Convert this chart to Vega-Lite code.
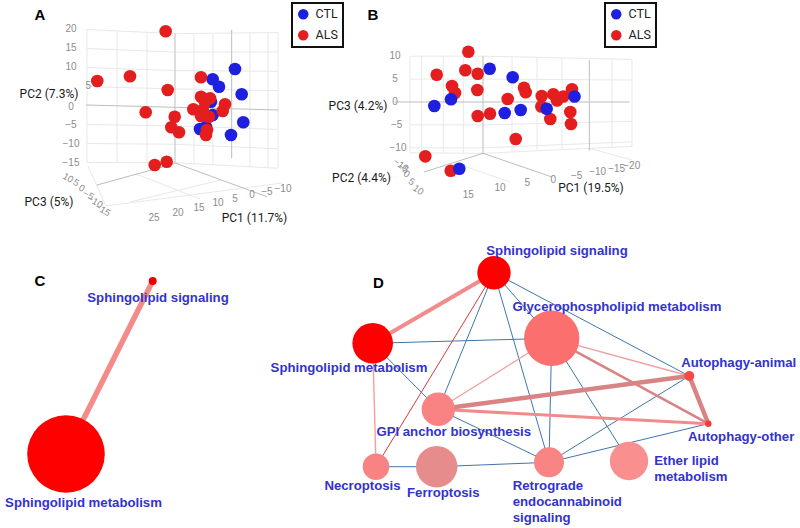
{
  "$schema": "https://vega.github.io/schema/vega-lite/v6.json",
  "padding": 0,
  "spacing": 0,
  "background": "white",
  "config": {"view": {"stroke": null}, "legend": {"strokeWidth": 2}},
  "resolve": {"scale": {"x": "independent", "y": "independent", "color": "independent", "stroke": "independent", "size": "independent", "strokeWidth": "independent"}},
  "datasets": {
    "pcaA": [
      {"group": "CTL", "x": 15.79, "y": 9.61}, {"group": "CTL", "x": 9.92, "y": 6.89}, {"group": "CTL", "x": 11.58, "y": 4.95},
      {"group": "CTL", "x": 17.55, "y": 2.95}, {"group": "CTL", "x": 9.47, "y": 1.0}, {"group": "CTL", "x": 9.92, "y": -2.5},
      {"group": "CTL", "x": 17.97, "y": -4.42}, {"group": "CTL", "x": 6.58, "y": -6.18}, {"group": "CTL", "x": 8.16, "y": -5.66},
      {"group": "CTL", "x": 14.74, "y": -7.76},
      {"group": "ALS", "x": -2.45, "y": 19.53}, {"group": "ALS", "x": -20.45, "y": 6.45}, {"group": "ALS", "x": -11.84, "y": 7.68},
      {"group": "ALS", "x": -1.92, "y": 4.08}, {"group": "ALS", "x": 6.84, "y": 7.42}, {"group": "ALS", "x": -7.71, "y": -1.79},
      {"group": "ALS", "x": -0.08, "y": -2.95}, {"group": "ALS", "x": -0.97, "y": -5.74}, {"group": "ALS", "x": 1.05, "y": -7.05},
      {"group": "ALS", "x": -2.18, "y": -14.79}, {"group": "ALS", "x": -5.34, "y": -15.66}, {"group": "ALS", "x": 6.84, "y": 2.32},
      {"group": "ALS", "x": 9.21, "y": 1.89}, {"group": "ALS", "x": 4.82, "y": -1.0}, {"group": "ALS", "x": 7.29, "y": -1.18},
      {"group": "ALS", "x": 6.84, "y": -2.76}, {"group": "ALS", "x": 8.95, "y": -2.95}, {"group": "ALS", "x": 13.16, "y": 0.32},
      {"group": "ALS", "x": 12.55, "y": -1.45}, {"group": "ALS", "x": 8.42, "y": -6.45}, {"group": "ALS", "x": 8.16, "y": -7.76},
      {"group": "ALS", "x": 7.89, "y": 0.92}
    ],
    "pcaB": [
      {"group": "ALS", "x": -3.21, "y": 10.98}, {"group": "ALS", "x": -10.11, "y": 5.96}, {"group": "ALS", "x": -3.86, "y": 6.92},
      {"group": "ALS", "x": -1.16, "y": 6.18}, {"group": "ALS", "x": -6.77, "y": 3.49}, {"group": "ALS", "x": -6.11, "y": 1.97},
      {"group": "ALS", "x": -1.24, "y": 2.62}, {"group": "ALS", "x": 8.95, "y": 3.12}, {"group": "ALS", "x": 9.32, "y": 2.12},
      {"group": "ALS", "x": 5.39, "y": 0.66}, {"group": "ALS", "x": 12.82, "y": 1.31}, {"group": "ALS", "x": 15.35, "y": 1.68},
      {"group": "ALS", "x": 16.16, "y": 0.33}, {"group": "ALS", "x": 17.53, "y": 1.2}, {"group": "ALS", "x": 19.43, "y": 2.77},
      {"group": "ALS", "x": 12.73, "y": -0.98}, {"group": "ALS", "x": 14.69, "y": -3.71}, {"group": "ALS", "x": 19.06, "y": -2.18},
      {"group": "ALS", "x": 19.21, "y": -4.8}, {"group": "ALS", "x": -1.16, "y": -3.06}, {"group": "ALS", "x": 1.53, "y": -2.55},
      {"group": "ALS", "x": 7.14, "y": -8.08}, {"group": "ALS", "x": -12.6, "y": -11.86}, {"group": "ALS", "x": -7.05, "y": -15.0},
      {"group": "CTL", "x": 1.46, "y": 7.27}, {"group": "CTL", "x": 6.48, "y": 5.39}, {"group": "CTL", "x": -6.99, "y": 0.59},
      {"group": "CTL", "x": -10.63, "y": -0.87}, {"group": "CTL", "x": 4.74, "y": -2.4}, {"group": "CTL", "x": 8.23, "y": -1.75},
      {"group": "CTL", "x": 13.91, "y": -1.46}, {"group": "CTL", "x": 19.98, "y": 1.2}, {"group": "CTL", "x": -5.17, "y": -14.56}
    ],
    "gridA": [
      {"kind": "grid", "x": -23.16, "y": 20, "x2": 0, "y2": 18.9},
      {"kind": "grid", "x": -23.16, "y": 15, "x2": 0, "y2": 14.05},
      {"kind": "grid", "x": -23.16, "y": 10, "x2": 0, "y2": 9.2},
      {"kind": "grid", "x": -23.16, "y": 5, "x2": 0, "y2": 4.35},
      {"kind": "grid", "x": -23.16, "y": -5, "x2": 0, "y2": -5.35},
      {"kind": "grid", "x": -23.16, "y": -10, "x2": 0, "y2": -10.2},
      {"kind": "grid", "x": -23.16, "y": -15, "x2": 0, "y2": -15.05},
      {"kind": "grid", "x": 0, "y": 18.9, "x2": 27.1, "y2": 19.2},
      {"kind": "grid", "x": 0, "y": 14.05, "x2": 27.1, "y2": 14.1},
      {"kind": "grid", "x": 0, "y": 9.2, "x2": 27.1, "y2": 9.0},
      {"kind": "grid", "x": 0, "y": 4.35, "x2": 27.1, "y2": 3.9},
      {"kind": "grid", "x": 0, "y": -5.35, "x2": 27.1, "y2": -6.3},
      {"kind": "grid", "x": 0, "y": -10.2, "x2": 27.1, "y2": -11.4},
      {"kind": "grid", "x": 0, "y": -15.05, "x2": 27.1, "y2": -16.5},
      {"kind": "grid", "x": -23.16, "y": 20, "x2": -23.16, "y2": -15},
      {"kind": "grid", "x": -15.26, "y": 19.6, "x2": -15.26, "y2": -15},
      {"kind": "grid", "x": -7.37, "y": 19.25, "x2": -7.37, "y2": -15.03},
      {"kind": "grid", "x": 5, "y": 18.96, "x2": 5, "y2": -15.32},
      {"kind": "grid", "x": 10, "y": 19.01, "x2": 10, "y2": -15.59},
      {"kind": "grid", "x": 19.74, "y": 19.12, "x2": 19.74, "y2": -16.11},
      {"kind": "grid", "x": 24.47, "y": 19.17, "x2": 24.47, "y2": -16.36},
      {"kind": "grid", "x": 27.1, "y": 19.2, "x2": 27.1, "y2": -16.5},
      {"kind": "grid", "x": -22.89, "y": -15.92, "x2": -18.16, "y2": -26.45},
      {"kind": "grid", "x": -18.16, "y": -26.45, "x2": 28.16, "y2": -20.39},
      {"kind": "grid", "x": -11.84, "y": -25.39, "x2": 12.1, "y2": -19.6},
      {"kind": "grid", "x": -10.26, "y": -18.03, "x2": 6.58, "y2": -24.61},
      {"kind": "axis", "x": -23.45, "y": 0.13, "x2": 27.18, "y2": -1.18},
      {"kind": "axis", "x": 0, "y": 18.9, "x2": 0, "y2": -15.05},
      {"kind": "axis", "x": 14.92, "y": 19.87, "x2": 14.92, "y2": -13.9},
      {"kind": "axis", "x": -20.53, "y": -20.92, "x2": 0.21, "y2": -15.21},
      {"kind": "axis", "x": 0.21, "y": -15.21, "x2": 24.21, "y2": -24.0}
    ],
    "gridB": [
      {"kind": "grid", "x": -15.94, "y": 10, "x2": 0, "y2": 10},
      {"kind": "grid", "x": -15.94, "y": 5, "x2": 0, "y2": 5},
      {"kind": "grid", "x": -15.94, "y": -5, "x2": 0, "y2": -5},
      {"kind": "grid", "x": -15.94, "y": -10, "x2": 0, "y2": -10},
      {"kind": "grid", "x": 0, "y": 10, "x2": 32.53, "y2": 9.3},
      {"kind": "grid", "x": 0, "y": 5, "x2": 32.53, "y2": 4.8},
      {"kind": "grid", "x": 0, "y": -5, "x2": 32.53, "y2": -4.2},
      {"kind": "grid", "x": 0, "y": -10, "x2": 32.53, "y2": -8.7},
      {"kind": "grid", "x": -15.94, "y": 10, "x2": -15.94, "y2": -11.1},
      {"kind": "grid", "x": -13.38, "y": 10, "x2": -13.38, "y2": -11.1},
      {"kind": "grid", "x": -8.67, "y": 10, "x2": -8.67, "y2": -11.1},
      {"kind": "grid", "x": -4.3, "y": 10, "x2": -4.3, "y2": -11.1},
      {"kind": "grid", "x": 6.33, "y": 9.86, "x2": 6.33, "y2": -10.83},
      {"kind": "grid", "x": 11.79, "y": 9.75, "x2": 11.79, "y2": -10.59},
      {"kind": "grid", "x": 17.25, "y": 9.63, "x2": 17.25, "y2": -10.36},
      {"kind": "grid", "x": 28.17, "y": 9.39, "x2": 28.17, "y2": -9.89},
      {"kind": "grid", "x": 32.53, "y": 9.3, "x2": 32.53, "y2": -9.7},
      {"kind": "grid", "x": -15.94, "y": -11.1, "x2": 0, "y2": -11.2},
      {"kind": "grid", "x": 0, "y": -11.2, "x2": 32.53, "y2": -9.7},
      {"kind": "grid", "x": 23.21, "y": -10.13, "x2": 32.53, "y2": -12.66},
      {"kind": "grid", "x": -6.44, "y": -13.23, "x2": 5.9, "y2": -17.47},
      {"kind": "axis", "x": -19.26, "y": 0, "x2": 32.0, "y2": 0},
      {"kind": "axis", "x": 0, "y": 10, "x2": 0, "y2": -11.2},
      {"kind": "axis", "x": 23.22, "y": 9.17, "x2": 23.22, "y2": -10.6},
      {"kind": "axis", "x": -12.88, "y": -15.28, "x2": 0, "y2": -11.2},
      {"kind": "axis", "x": 0, "y": -11.2, "x2": 15.07, "y2": -16.38}
    ],
    "ticksA": [
      {"axis": "PC2", "x": -27.37, "y": 20, "label": "20"}, {"axis": "PC2", "x": -27.37, "y": 15, "label": "15"}, {"axis": "PC2", "x": -27.37, "y": 10, "label": "10"},
      {"axis": "PC2", "x": -22.8, "y": 5.2, "label": "5"}, {"axis": "PC2", "x": -27.37, "y": -0.3, "label": "0"}, {"axis": "PC2", "x": -27.37, "y": -5, "label": "−5"},
      {"axis": "PC2", "x": -27.37, "y": -10, "label": "−10"}, {"axis": "PC2", "x": -27.37, "y": -15, "label": "−15"},
      {"axis": "PC3", "x": -28.16, "y": -19.08, "label": "10"}, {"axis": "PC3", "x": -26.05, "y": -20.32, "label": "5"}, {"axis": "PC3", "x": -24.55, "y": -21.79, "label": "0"},
      {"axis": "PC3", "x": -22.82, "y": -23.55, "label": "−5"}, {"axis": "PC3", "x": -21.05, "y": -25.32, "label": "−10"}, {"axis": "PC3", "x": -19.03, "y": -27.5, "label": "−15"},
      {"axis": "PC1", "x": -5.53, "y": -29.61, "label": "25"}, {"axis": "PC1", "x": 0.79, "y": -28.29, "label": "20"}, {"axis": "PC1", "x": 6.32, "y": -26.97, "label": "15"},
      {"axis": "PC1", "x": 11.32, "y": -25.66, "label": "10"}, {"axis": "PC1", "x": 15.79, "y": -24.61, "label": "5"}, {"axis": "PC1", "x": 20.26, "y": -23.55, "label": "0"},
      {"axis": "PC1", "x": 24.21, "y": -22.76, "label": "−5"}, {"axis": "PC1", "x": 28.42, "y": -21.97, "label": "−10"}
    ],
    "titlesA": [
      {"x": -33.16, "y": 3.15, "label": "PC2 (7.3%)"},
      {"x": -33.16, "y": -25.32, "label": "PC3 (5%)"},
      {"x": 20.92, "y": -29.68, "label": "PC1 (11.7%)"}
    ],
    "letterA": [{"x": -35.53, "y": 23.82, "label": "A"}],
    "ticksB": [
      {"axis": "PC3", "x": -19.21, "y": 10, "label": "10"}, {"axis": "PC3", "x": -19.21, "y": 5, "label": "5"}, {"axis": "PC3", "x": -19.21, "y": 0, "label": "0"},
      {"axis": "PC3", "x": -18.84, "y": -5, "label": "−5"}, {"axis": "PC3", "x": -18.56, "y": -10, "label": "−10"},
      {"axis": "PC2", "x": -17.97, "y": -13.76, "label": "−10"}, {"axis": "PC2", "x": -17.4, "y": -14.48, "label": "−5"}, {"axis": "PC2", "x": -16.66, "y": -15.72, "label": "0"},
      {"axis": "PC2", "x": -15.57, "y": -17.4, "label": "5"}, {"axis": "PC2", "x": -14.13, "y": -19.21, "label": "10"},
      {"axis": "PC1", "x": -3.21, "y": -20.31, "label": "15"}, {"axis": "PC1", "x": 3.71, "y": -18.84, "label": "10"}, {"axis": "PC1", "x": 9.67, "y": -17.75, "label": "5"},
      {"axis": "PC1", "x": 15.35, "y": -17.03, "label": "0"}, {"axis": "PC1", "x": 20.46, "y": -16.09, "label": "−5"}, {"axis": "PC1", "x": 25.04, "y": -15.35, "label": "−10"},
      {"axis": "PC1", "x": 29.19, "y": -14.69, "label": "−15"}, {"axis": "PC1", "x": 32.47, "y": -13.91, "label": "−20"}
    ],
    "titlesB": [
      {"x": -27.29, "y": -0.87, "label": "PC3 (4.2%)"},
      {"x": -26.53, "y": -16.59, "label": "PC2 (4.4%)"},
      {"x": 23.58, "y": -18.78, "label": "PC1 (19.5%)"}
    ],
    "letterB": [{"x": -24.02, "y": 19.0, "label": "B"}],
    "nodesC": [
      {"name": "Sphingolipid signaling", "x": 152.7, "y": 41, "hits": 1.0},
      {"name": "Sphingolipid metabolism", "x": 66, "y": 214, "hits": 94.6}
    ],
    "edgesC": [
      {"source": "Sphingolipid signaling", "target": "Sphingolipid metabolism", "kind": "shared", "weight": 5.5}
    ],
    "labelsC": [
      {"x": 158, "y": 58.3, "label": "Sphingolipid signaling"},
      {"x": 83.5, "y": 263.3, "label": "Sphingolipid metabolism"}
    ],
    "letterC": [{"x": 40, "y": 40.7, "label": "C"}],
    "nodesD": [
      {"name": "Sphingolipid signaling", "x": 194, "y": 32.7, "hits": 29.2},
      {"name": "Sphingolipid metabolism", "x": 72.7, "y": 103.3, "hits": 43.2},
      {"name": "Glycerophospholipid metabolism", "x": 251.7, "y": 98.3, "hits": 80.3},
      {"name": "Autophagy-animal", "x": 389.3, "y": 136, "hits": 2.6},
      {"name": "Autophagy-other", "x": 408.3, "y": 183.7, "hits": 1.1},
      {"name": "GPI anchor biosynthesis", "x": 138.3, "y": 169.3, "hits": 29.2},
      {"name": "Necroptosis", "x": 76, "y": 226.7, "hits": 18.5},
      {"name": "Ferroptosis", "x": 136.7, "y": 226.7, "hits": 44.9},
      {"name": "Retrograde endocannabinoid signaling", "x": 249, "y": 222.3, "hits": 23.6},
      {"name": "Ether lipid metabolism", "x": 329, "y": 221, "hits": 38.6}
    ],
    "edgesD": [
      {"source": "Sphingolipid signaling", "target": "Autophagy-animal", "kind": "neg", "weight": 1},
      {"source": "Sphingolipid signaling", "target": "GPI anchor biosynthesis", "kind": "neg", "weight": 1},
      {"source": "Sphingolipid signaling", "target": "Retrograde endocannabinoid signaling", "kind": "neg", "weight": 1},
      {"source": "Sphingolipid signaling", "target": "Glycerophospholipid metabolism", "kind": "neg", "weight": 1},
      {"source": "Sphingolipid metabolism", "target": "Glycerophospholipid metabolism", "kind": "neg", "weight": 1},
      {"source": "Sphingolipid metabolism", "target": "GPI anchor biosynthesis", "kind": "neg", "weight": 1},
      {"source": "Glycerophospholipid metabolism", "target": "Retrograde endocannabinoid signaling", "kind": "neg", "weight": 1},
      {"source": "Glycerophospholipid metabolism", "target": "Ether lipid metabolism", "kind": "neg", "weight": 1},
      {"source": "GPI anchor biosynthesis", "target": "Retrograde endocannabinoid signaling", "kind": "neg", "weight": 1},
      {"source": "Retrograde endocannabinoid signaling", "target": "Autophagy-animal", "kind": "neg", "weight": 1},
      {"source": "Retrograde endocannabinoid signaling", "target": "Autophagy-other", "kind": "neg", "weight": 1},
      {"source": "Necroptosis", "target": "Ferroptosis", "kind": "neg", "weight": 1},
      {"source": "Ferroptosis", "target": "Retrograde endocannabinoid signaling", "kind": "neg", "weight": 1},
      {"source": "Sphingolipid signaling", "target": "Necroptosis", "kind": "red", "weight": 1},
      {"source": "Sphingolipid metabolism", "target": "Necroptosis", "kind": "weak", "weight": 1.4},
      {"source": "Glycerophospholipid metabolism", "target": "GPI anchor biosynthesis", "kind": "weak", "weight": 1.3},
      {"source": "Glycerophospholipid metabolism", "target": "Autophagy-animal", "kind": "weak", "weight": 1.3},
      {"source": "Glycerophospholipid metabolism", "target": "Autophagy-other", "kind": "strong", "weight": 2.6},
      {"source": "GPI anchor biosynthesis", "target": "Autophagy-other", "kind": "shared", "weight": 3},
      {"source": "GPI anchor biosynthesis", "target": "Autophagy-animal", "kind": "strong", "weight": 4.5},
      {"source": "Autophagy-animal", "target": "Autophagy-other", "kind": "strong", "weight": 4.5},
      {"source": "Sphingolipid signaling", "target": "Sphingolipid metabolism", "kind": "shared", "weight": 4}
    ],
    "labelsD": [
      {"x": 257, "y": 11, "label": "Sphingolipid signaling"},
      {"x": 317, "y": 66.7, "label": "Glycerophospholipid metabolism"},
      {"x": 49, "y": 128.3, "label": "Sphingolipid metabolism"},
      {"x": 438.7, "y": 123.3, "label": "Autophagy-animal"},
      {"x": 441.2, "y": 196.7, "label": "Autophagy-other"},
      {"x": 153.7, "y": 191.7, "label": "GPI anchor biosynthesis"},
      {"x": 62.5, "y": 246, "label": "Necroptosis"},
      {"x": 143.3, "y": 252.7, "label": "Ferroptosis"}
    ],
    "labelsDLeft": [
      {"x": 212.7, "y": 246, "label": "Retrograde"},
      {"x": 212.7, "y": 261.7, "label": "endocannabinoid"},
      {"x": 212.7, "y": 277.7, "label": "signaling"},
      {"x": 354.3, "y": 221, "label": "Ether lipid"},
      {"x": 354.3, "y": 237.3, "label": "metabolism"}
    ],
    "letterD": [{"x": 78.3, "y": 42.7, "label": "D"}]
  },
  "vconcat": [
    {
      "spacing": 0,
      "bounds": "flush",
      "resolve": {"scale": {"x": "independent", "y": "independent", "color": "independent", "stroke": "independent", "size": "independent", "strokeWidth": "independent"}},
      "hconcat": [
        {
          "width": 380,
          "height": 240,
          "encoding": {
            "x": {"field": "x", "type": "quantitative", "scale": {"domain": [-46.05, 53.95], "nice": false, "zero": false}, "axis": null},
            "y": {"field": "y", "type": "quantitative", "scale": {"domain": [-35.39, 27.76], "nice": false, "zero": false}, "axis": null}
          },
          "layer": [
            {"data": {"name": "gridA"}, "transform": [{"filter": "datum.kind == 'grid'"}], "mark": {"type": "rule", "color": "#e8e8e8", "strokeWidth": 1}, "encoding": {"x2": {"field": "x2"}, "y2": {"field": "y2"}}},
            {"data": {"name": "gridA"}, "transform": [{"filter": "datum.kind == 'axis'"}], "mark": {"type": "rule", "color": "#bdbdbd", "strokeWidth": 1}, "encoding": {"x2": {"field": "x2"}, "y2": {"field": "y2"}}},
            {"data": {"name": "ticksA"}, "transform": [{"filter": "datum.axis != 'PC3'"}], "mark": {"type": "text", "fontSize": 10, "font": "Liberation Sans", "color": "#8c8c8c"}, "encoding": {"text": {"field": "label"}}},
            {"data": {"name": "ticksA"}, "transform": [{"filter": "datum.axis == 'PC3'"}], "mark": {"type": "text", "fontSize": 9.5, "angle": 30, "font": "Liberation Sans", "color": "#8c8c8c"}, "encoding": {"text": {"field": "label"}}},
            {"data": {"name": "titlesA"}, "mark": {"type": "text", "fontSize": 12, "font": "Roboto", "color": "#1a1a1a"}, "encoding": {"text": {"field": "label"}}},
            {"data": {"name": "letterA"}, "mark": {"type": "text", "fontSize": 15, "font": "Liberation Sans", "fontWeight": "bold", "color": "#000000"}, "encoding": {"text": {"field": "label"}}},
            {
              "data": {"name": "pcaA"},
              "mark": {"type": "circle", "size": 159, "opacity": 1},
              "encoding": {
                "color": {
                  "field": "group", "type": "nominal",
                  "scale": {"domain": ["CTL", "ALS"], "range": ["#1f1fe0", "#e41e1e"]},
                  "legend": {"title": null, "orient": "none", "legendX": 292, "legendY": 3, "strokeColor": "#111111", "fillColor": "white", "padding": 5, "symbolType": "circle", "symbolSize": 110, "symbolStrokeWidth": 0, "symbolOpacity": 1, "labelFontSize": 12.5, "labelFont": "Roboto", "labelColor": "#222222", "labelOffset": 6, "rowPadding": 8}
                }
              }
            }
          ]
        },
        {
          "width": 420,
          "height": 240,
          "encoding": {
            "x": {"field": "x", "type": "quantitative", "scale": {"domain": [-22.49, 69.21], "nice": false, "zero": false}, "axis": null},
            "y": {"field": "y", "type": "quantitative", "scale": {"domain": [-30.13, 22.27], "nice": false, "zero": false}, "axis": null}
          },
          "layer": [
            {"data": {"name": "gridB"}, "transform": [{"filter": "datum.kind == 'grid'"}], "mark": {"type": "rule", "color": "#e8e8e8", "strokeWidth": 1}, "encoding": {"x2": {"field": "x2"}, "y2": {"field": "y2"}}},
            {"data": {"name": "gridB"}, "transform": [{"filter": "datum.kind == 'axis'"}], "mark": {"type": "rule", "color": "#bdbdbd", "strokeWidth": 1}, "encoding": {"x2": {"field": "x2"}, "y2": {"field": "y2"}}},
            {"data": {"name": "ticksB"}, "transform": [{"filter": "datum.axis != 'PC2'"}], "mark": {"type": "text", "fontSize": 10, "font": "Liberation Sans", "color": "#8c8c8c"}, "encoding": {"text": {"field": "label"}}},
            {"data": {"name": "ticksB"}, "transform": [{"filter": "datum.axis == 'PC2'"}], "mark": {"type": "text", "fontSize": 9.5, "angle": 35, "font": "Liberation Sans", "color": "#8c8c8c"}, "encoding": {"text": {"field": "label"}}},
            {"data": {"name": "titlesB"}, "mark": {"type": "text", "fontSize": 12, "font": "Roboto", "color": "#1a1a1a"}, "encoding": {"text": {"field": "label"}}},
            {"data": {"name": "letterB"}, "mark": {"type": "text", "fontSize": 15, "font": "Liberation Sans", "fontWeight": "bold", "color": "#000000"}, "encoding": {"text": {"field": "label"}}},
            {
              "data": {"name": "pcaB"},
              "mark": {"type": "circle", "size": 159, "opacity": 1},
              "encoding": {
                "color": {
                  "field": "group", "type": "nominal",
                  "scale": {"domain": ["CTL", "ALS"], "range": ["#1f1fe0", "#e41e1e"]},
                  "legend": {"title": null, "orient": "none", "legendX": 225, "legendY": 3, "strokeColor": "#111111", "fillColor": "white", "padding": 5, "symbolType": "circle", "symbolSize": 110, "symbolStrokeWidth": 0, "symbolOpacity": 1, "labelFontSize": 12.5, "labelFont": "Roboto", "labelColor": "#222222", "labelOffset": 6, "rowPadding": 8}
                }
              }
            }
          ]
        }
      ]
    },
    {
      "spacing": 0,
      "bounds": "flush",
      "resolve": {"scale": {"x": "independent", "y": "independent", "color": "independent", "stroke": "independent", "size": "independent", "strokeWidth": "independent"}},
      "hconcat": [
        {
          "width": 300,
          "height": 288,
          "encoding": {
            "x": {"field": "x", "type": "quantitative", "scale": {"domain": [0, 300], "nice": false, "zero": false}, "axis": null},
            "y": {"field": "y", "type": "quantitative", "scale": {"domain": [0, 288], "nice": false, "zero": false, "reverse": true}, "axis": null}
          },
          "layer": [
            {
              "data": {"name": "edgesC"},
              "transform": [
                {"lookup": "source", "from": {"data": {"name": "nodesC"}, "key": "name", "fields": ["x", "y"]}},
                {"lookup": "target", "from": {"data": {"name": "nodesC"}, "key": "name", "fields": ["x", "y"]}, "as": ["x2", "y2"]}
              ],
              "mark": {"type": "rule"},
              "encoding": {
                "x2": {"field": "x2"}, "y2": {"field": "y2"},
                "stroke": {"field": "kind", "type": "nominal", "scale": {"domain": ["shared"], "range": ["#f38b8b"]}, "legend": null},
                "strokeWidth": {"field": "weight", "type": "quantitative", "scale": {"domain": [0, 6], "range": [0, 6]}, "legend": null}
              }
            },
            {
              "data": {"name": "nodesC"},
              "mark": {"type": "circle", "opacity": 1},
              "encoding": {
                "size": {"field": "hits", "type": "quantitative", "scale": {"domain": [0, 100], "range": [0, 6366]}, "legend": null},
                "color": {"field": "name", "type": "nominal", "scale": {"domain": ["Sphingolipid signaling", "Sphingolipid metabolism"], "range": ["#ee0000", "#ff0000"]}, "legend": null}
              }
            },
            {"data": {"name": "labelsC"}, "mark": {"type": "text", "fontSize": 13.2, "font": "Liberation Sans", "fontWeight": "bold", "color": "#3333cc"}, "encoding": {"text": {"field": "label"}}},
            {"data": {"name": "letterC"}, "mark": {"type": "text", "fontSize": 15, "font": "Liberation Sans", "fontWeight": "bold", "color": "#000000"}, "encoding": {"text": {"field": "label"}}}
          ]
        },
        {
          "width": 500,
          "height": 288,
          "encoding": {
            "x": {"field": "x", "type": "quantitative", "scale": {"domain": [0, 500], "nice": false, "zero": false}, "axis": null},
            "y": {"field": "y", "type": "quantitative", "scale": {"domain": [0, 288], "nice": false, "zero": false, "reverse": true}, "axis": null}
          },
          "layer": [
            {
              "data": {"name": "edgesD"},
              "transform": [
                {"lookup": "source", "from": {"data": {"name": "nodesD"}, "key": "name", "fields": ["x", "y"]}},
                {"lookup": "target", "from": {"data": {"name": "nodesD"}, "key": "name", "fields": ["x", "y"]}, "as": ["x2", "y2"]}
              ],
              "mark": {"type": "rule"},
              "encoding": {
                "x2": {"field": "x2"}, "y2": {"field": "y2"},
                "stroke": {"field": "kind", "type": "nominal", "scale": {"domain": ["neg", "red", "weak", "strong", "shared"], "range": ["#4075ab", "#d83a3a", "#f0a0a0", "#d88484", "#f28b8b"]}, "legend": null},
                "strokeWidth": {"field": "weight", "type": "quantitative", "scale": {"domain": [0, 5], "range": [0, 5]}, "legend": null}
              }
            },
            {
              "data": {"name": "nodesD"},
              "mark": {"type": "circle", "opacity": 1},
              "encoding": {
                "size": {"field": "hits", "type": "quantitative", "scale": {"domain": [0, 100], "range": [0, 3820]}, "legend": null},
                "color": {
                  "field": "name", "type": "nominal",
                  "scale": {
                    "domain": ["Sphingolipid signaling", "Sphingolipid metabolism", "Glycerophospholipid metabolism", "Autophagy-animal", "Autophagy-other", "GPI anchor biosynthesis", "Necroptosis", "Ferroptosis", "Retrograde endocannabinoid signaling", "Ether lipid metabolism"],
                    "range": ["#ff0000", "#ff0000", "#fb6f6f", "#f44a4a", "#f23a3a", "#f98383", "#f88383", "#e68c8c", "#f88484", "#f98f8f"]
                  },
                  "legend": null
                }
              }
            },
            {"data": {"name": "labelsD"}, "mark": {"type": "text", "fontSize": 13.2, "font": "Liberation Sans", "fontWeight": "bold", "color": "#3333cc"}, "encoding": {"text": {"field": "label"}}},
            {"data": {"name": "labelsDLeft"}, "mark": {"type": "text", "align": "left", "fontSize": 13.2, "font": "Liberation Sans", "fontWeight": "bold", "color": "#3333cc"}, "encoding": {"text": {"field": "label"}}},
            {"data": {"name": "letterD"}, "mark": {"type": "text", "fontSize": 15, "font": "Liberation Sans", "fontWeight": "bold", "color": "#000000"}, "encoding": {"text": {"field": "label"}}}
          ]
        }
      ]
    }
  ]
}
